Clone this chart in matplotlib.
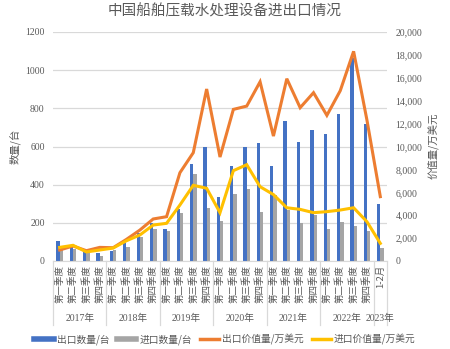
import numpy as np
import matplotlib
matplotlib.use('Agg')
import matplotlib.pyplot as plt
from matplotlib.lines import Line2D
from matplotlib.ticker import FuncFormatter

plt.rcParams['font.family'] = ['Liberation Serif', 'Noto Sans CJK SC', 'DejaVu Sans']

# data
quarters = ['第一季度', '第二季度', '第三季度', '第四季度']
years = ['2017年', '2018年', '2019年', '2020年', '2021年', '2022年', '2023年']
year_sizes = [4, 4, 4, 4, 4, 4, 1]
cat_labels = quarters * 6 + ['1-2月']

export_qty = [104, 75, 49, 44, 52, 92, 145, 197,
              167, 275, 506, 597, 336, 496, 597, 616,
              500, 735, 623, 686, 668, 769, 1064, 720, 298]
import_qty = [62, 61, 40, 28, 60, 75, 124, 169,
              157, 251, 454, 277, 209, 350, 376, 256,
              345, 265, 200, 240, 169, 205, 183, 157, 70]
export_val = [960, 1310, 900, 1190, 1160, 1890, 2700, 3670,
              3870, 7710, 9460, 15020, 9080, 13240, 13530, 15650,
              10910, 15920, 13390, 14700, 12720, 14870, 18310, 12300, 5620]
import_val = [1190, 1370, 790, 960, 1130, 1770, 2270, 3140,
              3290, 4890, 6610, 6350, 4220, 7890, 8410, 6490,
              5800, 4650, 4510, 4220, 4310, 4450, 4650, 3430, 1540]

c_blue = '#4472C4'
c_gray = '#A5A5A5'
c_orange = '#ED7D31'
c_yellow = '#FFC000'
c_text = '#595959'
c_grid = '#D9D9D9'

x = np.arange(len(cat_labels))
w = 0.25

fig = plt.figure(figsize=(4.5, 3.49), dpi=100)
ax = fig.add_axes([53 / 450, 1 - 261 / 349, 334 / 450, 229 / 349])
ax.bar(x - w / 2, export_qty, width=w, color=c_blue, zorder=2)
ax.bar(x + w / 2, import_qty, width=w, color=c_gray, zorder=2)
ax.set_ylim(0, 1200)
ax.set_yticks(np.arange(0, 1201, 200))
ax.set_xlim(-0.5, len(cat_labels) - 0.5)
ax.grid(axis='y', color=c_grid, lw=0.9, zorder=0)
ax.set_axisbelow(True)
for s in ['top', 'left', 'right']:
    ax.spines[s].set_visible(False)
ax.spines['bottom'].set_color(c_grid)
ax.tick_params(axis='y', length=0, labelsize=7, labelcolor=c_text, pad=6)
ax.set_xticks(x)
ax.set_xticklabels(cat_labels, rotation=90, fontsize=6.8, color=c_text,
                   family=['Noto Sans CJK SC', 'DejaVu Sans'])
ax.tick_params(axis='x', length=0, pad=3)

ax2 = ax.twinx()
ax2.plot(x, export_val, color=c_orange, lw=2.2, solid_joinstyle='miter')
ax2.plot(x, import_val, color=c_yellow, lw=2.2, solid_joinstyle='miter')
ax2.set_ylim(0, 20000)
ax2.set_yticks(np.arange(0, 20001, 2000))
ax2.yaxis.set_major_formatter(FuncFormatter(lambda v, p: f'{int(v):,}'))
ax2.tick_params(axis='y', length=0, labelsize=7, labelcolor=c_text, pad=6)
for s in ax2.spines.values():
    s.set_visible(False)

# year group labels and separators under the axis
trans = matplotlib.transforms.blended_transform_factory(ax.transData, ax.transAxes)
edges = np.concatenate([[0], np.cumsum(year_sizes)]) - 0.5
for e in edges:
    ax.plot([e, e], [0, -0.28], transform=trans, color=c_grid, lw=0.9, clip_on=False)
for i, yr in enumerate(years):
    mid = (edges[i] + edges[i + 1]) / 2
    ax.text(mid, -0.249, yr, transform=trans, ha='center', va='center',
            fontsize=7, color=c_text)

fig.text(0.5, 1 - 11 / 349, '中国船舶压载水处理设备进出口情况', ha='center', va='center',
         fontsize=10.5, color=c_text, family=['Noto Sans CJK SC'])
fig.text(15 / 450, 1 - 146 / 349, '数量/台', rotation=90, ha='center', va='center',
         fontsize=7.5, color=c_text, family=['Noto Sans CJK SC'])
fig.text(433 / 450, 1 - 146 / 349, '价值量/万美元', rotation=90, ha='center', va='center',
         fontsize=7.5, color=c_text, family=['Noto Sans CJK SC'])

handles = [Line2D([], [], color=c_blue, lw=4),
           Line2D([], [], color=c_gray, lw=4),
           Line2D([], [], color=c_orange, lw=2.5),
           Line2D([], [], color=c_yellow, lw=2.5)]
names = ['出口数量/台', '进口数量/台', '出口价值量/万美元', '进口价值量/万美元']
fig.legend(handles, names, loc='center', bbox_to_anchor=(0.5, 1 - 339 / 349), ncol=4,
           frameon=False, handlelength=2.0, handletextpad=0.3, columnspacing=0.8,
           prop={'family': 'Noto Sans CJK SC', 'size': 7}, labelcolor=c_text)

fig.savefig('out.png', dpi=100)
